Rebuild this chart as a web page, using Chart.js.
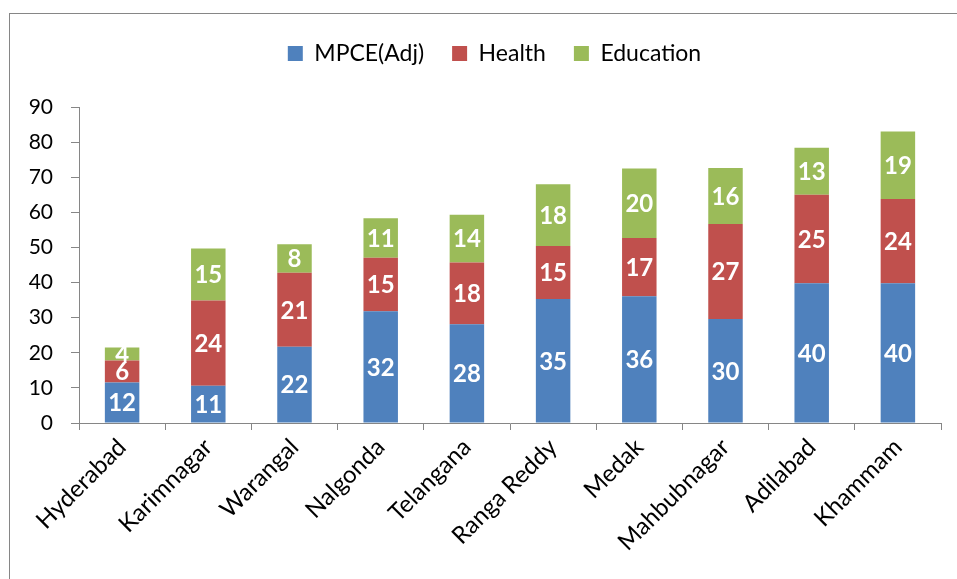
<!DOCTYPE html>
<html>
<head>
<meta charset="utf-8">
<script src="https://cdn.jsdelivr.net/npm/chart.js@4"></script>
<style>
  html, body { margin: 0; padding: 0; background: #fff; overflow: hidden; }
  #wrap { position: relative; width: 957px; height: 579px; }
  #frame { position: absolute; left: 9px; top: 13px; width: 960px; height: 600px; border: 1px solid #868686; box-sizing: border-box; }
  #chart { position: absolute; left: 0; top: 0; }
</style>
</head>
<body>
<div id="wrap">
  <div id="frame"></div>
  <canvas id="chart" width="957" height="579"></canvas>
</div>
<script>
// districts along the x axis
const districts = ['Hyderabad', 'Karimnagar', 'Warangal', 'Nalgonda', 'Telangana',
  'Ranga Reddy', 'Medak', 'Mahbubnagar', 'Adilabad', 'Khammam'];

// series values
const mpce = [11.5, 10.6, 21.7, 31.8, 28.1, 35.3, 36.1, 29.6, 39.8, 39.8];
const health = [6.3, 24.3, 21.1, 15.3, 17.6, 15.1, 16.6, 27.1, 25.2, 24.0];
const education = [3.7, 14.8, 8.1, 11.2, 13.6, 17.6, 19.8, 15.9, 13.4, 19.2];

const yTicks = [0, 10, 20, 30, 40, 50, 60, 70, 80, 90];

const axisGrey = '#868686';
const fontFamily = 'Lato';

// white value labels in the middle of each segment
const segmentLabels = {
  id: 'segmentLabels',
  afterDatasetsDraw(chart) {
    const ctx = chart.ctx;
    ctx.save();
    ctx.font = 'bold 24px ' + fontFamily;
    ctx.fillStyle = '#ffffff';
    ctx.textAlign = 'center';
    ctx.textBaseline = 'middle';
    chart.data.datasets.forEach((ds, i) => {
      const meta = chart.getDatasetMeta(i);
      meta.data.forEach((bar, j) => {
        const v = ds.data[j];
        ctx.fillText(String(Math.round(v)), bar.x, (bar.y + bar.base) / 2 + 1);
      });
    });
    ctx.restore();
  }
};

// extra room under the legend, and nudge it a bit to the right
const legendGap = {
  id: 'legendGap',
  beforeInit(chart) {
    const fit = chart.legend.fit;
    chart.legend.fit = function () {
      fit.call(this);
      this.height += 32;
    };
  },
  afterLayout(chart) {
    chart.legend.left += 48;
  }
};

new Chart(document.getElementById('chart'), {
  type: 'bar',
  data: {
    labels: districts,
    datasets: [
      { label: 'MPCE(Adj)', data: mpce, backgroundColor: '#4F81BD' },
      { label: 'Health', data: health, backgroundColor: '#C0504D' },
      { label: 'Education', data: education, backgroundColor: '#9BBB59' }
    ]
  },
  options: {
    responsive: false,
    animation: false,
    layout: { padding: { top: 14, right: 16, left: 0, bottom: 0 } },
    datasets: { bar: { barPercentage: 0.4, categoryPercentage: 1.0 } },
    plugins: {
      tooltip: { enabled: false },
      legend: {
        position: 'top',
        labels: {
          boxWidth: 15,
          boxHeight: 15,
          padding: 28,
          color: '#000',
          font: { family: fontFamily, size: 23 }
        }
      }
    },
    scales: {
      x: {
        stacked: true,
        afterFit(scale) { scale.height = 156; },
        grid: { drawOnChartArea: false, color: axisGrey, tickLength: 7, offset: true },
        border: { color: axisGrey, width: 1 },
        ticks: {
          color: '#000',
          minRotation: 45,
          maxRotation: 45,
          padding: 3,
          font: { family: fontFamily, size: 24 }
        }
      },
      y: {
        stacked: true,
        min: 0,
        max: 90,
        afterFit(scale) { scale.width = 79; },
        afterBuildTicks(scale) { scale.ticks = yTicks.map(v => ({ value: v })); },
        grid: { drawOnChartArea: false, color: axisGrey, tickLength: 8 },
        border: { color: axisGrey, width: 1 },
        ticks: {
          color: '#000',
          padding: 18,
          font: { family: fontFamily, size: 21 }
        }
      }
    }
  },
  plugins: [segmentLabels, legendGap]
});
</script>
</body>
</html>
